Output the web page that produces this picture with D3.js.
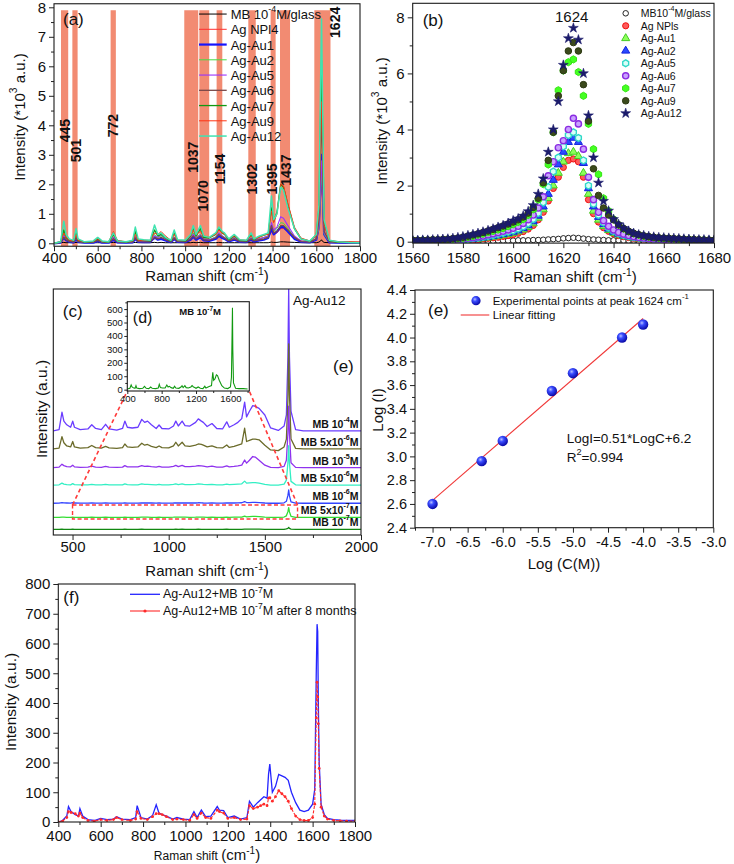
<!DOCTYPE html>
<html><head><meta charset="utf-8">
<script src="https://cdn.jsdelivr.net/npm/d3@7/dist/d3.min.js"></script>
<style>html,body{margin:0;padding:0;background:#fff;}svg{display:block;}</style>
</head><body>
<svg id="fig" width="734" height="864"></svg>
<script>
// ================= DATA =================
// ---- Panel (a): Raman spectra (intensity, 10^3 a.u.) ----
const gridA = [400,430,445,455,470,490,501,510,540,580,
  600,620,650,672,690,730,760,772,785,810,
  840,860,875,890,910,935,950,965,1000,1025,
  1037,1050,1070,1085,1110,1140,1154,1170,1180,1200,
  1225,1250,1280,1302,1315,1340,1360,1380,1395,1405,
  1420,1437,1450,1470,1500,1530,1570,1600,1612,1620,
  1624,1628,1636,1660,1700,1750,1800];
const aNames = ["MB 10^{-4}M/glass","Ag NPl4","Ag-Au1","Ag-Au2","Ag-Au5","Ag-Au6","Ag-Au7","Ag-Au9","Ag-Au12"];
const aMB = [0.02,0.02,0.03,0.02,0.02,0.02,0.03,0.02,0.02,0.02,
  0.02,0.02,0.02,0.03,0.02,0.02,0.02,0.03,0.02,0.02,
  0.02,0.03,0.02,0.03,0.02,0.02,0.02,0.02,0.02,0.02,
  0.03,0.02,0.03,0.02,0.02,0.02,0.03,0.02,0.02,0.02,
  0.02,0.02,0.02,0.02,0.02,0.02,0.02,0.02,0.04,0.03,
  0.03,0.05,0.05,0.04,0.03,0.02,0.02,0.02,0.04,0.08,
  0.12,0.07,0.03,0.02,0.02,0.02,0.02];
const aNPl4 = [0.02,0.04,0.15,0.1,0.06,0.05,0.12,0.06,0.04,0.05,
  0.1,0.05,0.04,0.3,0.07,0.04,0.06,0.15,0.06,0.06,
  0.06,0.15,0.2,0.35,0.2,0.06,0.12,0.06,0.06,0.12,
  0.2,0.12,0.18,0.12,0.1,0.15,0.25,0.2,0.18,0.12,
  0.2,0.1,0.08,0.15,0.1,0.15,0.2,0.2,0.4,0.3,
  0.35,0.5,0.5,0.4,0.18,0.08,0.06,0.12,0.45,1.65,
  2.2,1.5,0.3,0.08,0.06,0.05,0.05];
const aAu1 = [0.0,0.02,0.2,0.1,0.05,0.03,0.15,0.05,0.02,0.02,
  0.08,0.02,0.02,0.12,0.03,0.02,0.03,0.15,0.05,0.04,
  0.04,0.2,0.12,0.15,0.1,0.04,0.15,0.05,0.04,0.12,
  0.22,0.12,0.2,0.1,0.08,0.15,0.25,0.18,0.15,0.06,
  0.12,0.05,0.04,0.12,0.06,0.1,0.12,0.18,0.5,0.3,
  0.4,0.55,0.55,0.4,0.15,0.05,0.03,0.12,0.6,2.25,
  3.0,2.1,0.3,0.03,0.02,0.01,0.01];
const aAu2 = [0.0,0.03,0.3,0.15,0.08,0.05,0.22,0.07,0.03,0.04,
  0.12,0.04,0.03,0.2,0.05,0.03,0.05,0.25,0.07,0.06,
  0.06,0.3,0.2,0.25,0.15,0.06,0.22,0.07,0.06,0.2,
  0.35,0.2,0.3,0.15,0.12,0.22,0.35,0.25,0.2,0.1,
  0.18,0.08,0.06,0.2,0.1,0.15,0.2,0.25,0.65,0.4,
  0.5,0.7,0.68,0.5,0.22,0.07,0.05,0.15,0.5,1.8,
  2.4,1.7,0.3,0.05,0.03,0.02,0.02];
const aAu5 = [0.0,0.03,0.25,0.15,0.07,0.05,0.2,0.07,0.03,0.04,
  0.12,0.04,0.03,0.2,0.05,0.03,0.05,0.22,0.07,0.06,
  0.06,0.25,0.2,0.3,0.15,0.06,0.2,0.07,0.06,0.18,
  0.3,0.18,0.28,0.15,0.12,0.2,0.35,0.25,0.2,0.1,
  0.18,0.08,0.06,0.18,0.1,0.15,0.2,0.25,0.7,0.45,
  0.55,0.9,0.85,0.6,0.25,0.08,0.05,0.15,0.6,2.1,
  2.8,1.95,0.35,0.05,0.03,0.02,0.02];
const aAu6 = [0.0,0.03,0.2,0.12,0.06,0.05,0.18,0.06,0.03,0.04,
  0.1,0.04,0.03,0.15,0.05,0.03,0.05,0.18,0.06,0.05,
  0.05,0.2,0.15,0.2,0.12,0.05,0.18,0.06,0.05,0.15,
  0.25,0.15,0.25,0.12,0.1,0.18,0.3,0.22,0.18,0.08,
  0.15,0.06,0.05,0.15,0.08,0.12,0.15,0.2,0.6,0.35,
  0.4,0.6,0.6,0.45,0.2,0.06,0.04,0.15,0.8,3.3,
  4.4,3.0,0.4,0.05,0.03,0.02,0.02];
const aAu7 = [0.0,0.05,0.45,0.2,0.1,0.08,0.35,0.1,0.04,0.06,
  0.15,0.06,0.04,0.3,0.08,0.04,0.08,0.4,0.1,0.1,
  0.08,0.45,0.25,0.3,0.18,0.08,0.35,0.1,0.08,0.25,
  0.5,0.25,0.5,0.2,0.18,0.3,0.5,0.35,0.3,0.12,
  0.25,0.1,0.08,0.3,0.12,0.22,0.28,0.32,1.2,0.75,
  1.05,2.0,1.9,1.3,0.5,0.15,0.07,0.28,1.2,4.6,
  6.2,4.3,0.7,0.08,0.04,0.03,0.02];
const aAu9 = [0.0,0.05,0.35,0.2,0.1,0.08,0.3,0.1,0.05,0.06,
  0.15,0.06,0.05,0.4,0.1,0.05,0.08,0.3,0.1,0.1,
  0.1,0.35,0.3,0.4,0.25,0.1,0.3,0.1,0.1,0.25,
  0.45,0.3,0.4,0.25,0.2,0.3,0.45,0.35,0.3,0.15,
  0.25,0.12,0.1,0.25,0.15,0.2,0.28,0.3,1.1,0.7,
  1.0,2.0,1.95,1.35,0.55,0.18,0.08,0.25,1.0,3.6,
  4.8,3.4,0.6,0.1,0.05,0.04,0.03];
const aAu12 = [0.0,0.05,0.75,0.3,0.15,0.1,0.5,0.15,0.05,0.08,
  0.2,0.08,0.05,0.35,0.08,0.05,0.1,0.55,0.15,0.12,
  0.1,0.62,0.3,0.35,0.2,0.1,0.45,0.12,0.1,0.3,
  0.6,0.3,0.6,0.25,0.2,0.35,0.55,0.4,0.35,0.15,
  0.3,0.12,0.1,0.35,0.15,0.25,0.3,0.35,1.6,0.8,
  1.0,1.9,1.8,1.2,0.5,0.15,0.08,0.3,1.3,5.6,
  7.6,5.2,0.8,0.1,0.05,0.03,0.02];
const aBands = [[432,465],[484,508],[659,683],[996,1060],[1065,1110],[1144,1170],[1289,1323],[1391,1414],[1434,1480],[1591,1665]];
const aBandTop = 7.9;
const aPeakText = ["445","501","772","1037","1070","1154","1302","1395","1437","1624"];
const aPeakX = [450,501,671,1034,1083,1159,1307,1396,1460,1685];
const aPeakY = [3.82,3.14,3.99,2.92,1.61,2.52,2.18,2.18,2.48,7.49];
const aXTicks = [400,600,800,1000,1200,1400,1600,1800];
const aYTicks = [0,1,2,3,4,5,6,7,8];

// ---- Panel (b): zoom on 1624 band (10^3 a.u.), sampled every 2 cm-1 from 1560 to 1680 ----
const gridB = d3.range(1560, 1681, 2);
const bNames = ["MB10^{-4}M/glass","Ag NPls","Ag-Au1","Ag-Au2","Ag-Au5","Ag-Au6","Ag-Au7","Ag-Au9","Ag-Au12"];
const bMB = [0.01,0.01,0.01,0.01,0.01,0.01,0.01,0.01,0.02,0.02,
  0.02,0.02,0.02,0.03,0.03,0.03,0.03,0.04,0.04,0.04,
  0.04,0.05,0.05,0.05,0.06,0.06,0.07,0.08,0.09,0.1,
  0.12,0.13,0.14,0.13,0.11,0.09,0.08,0.07,0.06,0.05,
  0.05,0.05,0.04,0.04,0.04,0.03,0.03,0.03,0.03,0.02,
  0.02,0.02,0.02,0.02,0.02,0.02,0.01,0.01,0.01,0.01,0.01];
const bNPls = [0.02,0.02,0.02,0.02,0.02,0.03,0.03,0.03,0.04,0.04,
  0.05,0.06,0.07,0.08,0.1,0.12,0.14,0.16,0.19,0.22,
  0.25,0.3,0.36,0.45,0.58,0.78,1.05,1.45,1.9,2.3,
  2.65,2.9,2.95,2.85,2.3,1.5,1.0,0.7,0.5,0.37,
  0.28,0.22,0.18,0.15,0.12,0.1,0.09,0.08,0.07,0.06,
  0.06,0.05,0.05,0.05,0.04,0.04,0.04,0.03,0.03,0.03,0.03];
const bAu1 = [0.02,0.02,0.03,0.03,0.03,0.03,0.04,0.04,0.05,0.05,
  0.06,0.07,0.09,0.1,0.12,0.14,0.17,0.2,0.23,0.27,
  0.31,0.36,0.43,0.52,0.65,0.85,1.15,1.55,2.0,2.45,
  2.85,3.15,3.2,3.05,2.45,1.7,1.1,0.78,0.55,0.41,
  0.31,0.25,0.2,0.16,0.13,0.11,0.1,0.09,0.08,0.07,
  0.06,0.06,0.05,0.05,0.05,0.04,0.04,0.04,0.03,0.03,0.03];
const bAu2 = [0.03,0.03,0.03,0.03,0.03,0.04,0.04,0.05,0.05,0.06,
  0.07,0.08,0.1,0.12,0.14,0.17,0.2,0.23,0.27,0.31,
  0.35,0.4,0.48,0.58,0.72,0.92,1.25,1.7,2.2,2.75,
  3.2,3.55,3.7,3.55,2.8,1.9,1.25,0.88,0.62,0.46,
  0.35,0.28,0.22,0.18,0.15,0.13,0.11,0.1,0.09,0.08,
  0.07,0.06,0.06,0.05,0.05,0.05,0.04,0.04,0.04,0.04,0.03];
const bAu5 = [0.03,0.03,0.03,0.03,0.04,0.04,0.05,0.05,0.06,0.07,
  0.08,0.1,0.12,0.14,0.17,0.2,0.23,0.27,0.31,0.35,
  0.4,0.46,0.54,0.65,0.8,1.02,1.4,1.95,2.5,3.0,
  3.4,3.8,3.9,3.7,2.9,2.0,1.35,0.95,0.68,0.5,
  0.38,0.3,0.24,0.2,0.16,0.14,0.12,0.1,0.09,0.08,
  0.07,0.07,0.06,0.06,0.05,0.05,0.05,0.04,0.04,0.04,0.04];
const bAu6 = [0.03,0.03,0.03,0.04,0.04,0.05,0.05,0.06,0.07,0.08,
  0.1,0.12,0.14,0.17,0.2,0.24,0.28,0.32,0.37,0.42,
  0.48,0.55,0.65,0.78,0.95,1.2,1.6,2.35,2.85,3.35,
  3.6,4.0,4.4,4.2,3.3,2.3,1.5,1.05,0.75,0.55,
  0.42,0.33,0.27,0.22,0.18,0.15,0.13,0.11,0.1,0.09,
  0.08,0.07,0.07,0.06,0.06,0.05,0.05,0.05,0.04,0.04,0.04];
const bAu7 = [0.04,0.04,0.05,0.05,0.06,0.06,0.07,0.08,0.09,0.11,
  0.13,0.16,0.2,0.24,0.28,0.33,0.38,0.43,0.48,0.55,
  0.62,0.7,0.8,0.95,1.15,1.5,2.05,2.75,3.9,5.4,
  6.1,6.4,6.5,6.05,5.2,4.2,3.3,2.4,1.55,1.1,
  0.8,0.6,0.46,0.36,0.29,0.24,0.2,0.17,0.15,0.13,
  0.12,0.11,0.1,0.09,0.08,0.08,0.07,0.06,0.06,0.05,0.05];
const bAu9 = [0.05,0.05,0.05,0.06,0.07,0.07,0.08,0.09,0.11,0.13,
  0.16,0.2,0.24,0.28,0.33,0.38,0.44,0.5,0.56,0.63,
  0.7,0.78,0.88,1.02,1.22,1.55,2.1,2.9,3.9,5.2,
  6.1,6.8,7.1,6.8,5.6,4.3,2.6,1.65,1.2,0.95,
  0.78,0.6,0.47,0.37,0.3,0.25,0.21,0.18,0.16,0.14,
  0.13,0.12,0.11,0.1,0.09,0.08,0.08,0.07,0.06,0.06,0.05];
const bAu12 = [0.05,0.05,0.06,0.06,0.07,0.08,0.09,0.1,0.12,0.15,
  0.18,0.22,0.26,0.3,0.35,0.4,0.46,0.52,0.58,0.66,
  0.75,0.82,0.92,1.08,1.3,1.7,2.25,3.2,4.0,5.0,
  6.3,7.25,7.62,7.2,6.0,4.5,3.0,2.1,1.45,1.1,
  0.8,0.62,0.48,0.38,0.3,0.25,0.22,0.19,0.17,0.15,
  0.14,0.13,0.12,0.11,0.1,0.09,0.08,0.07,0.07,0.06,0.06];
const bXTicks = [1560,1580,1600,1620,1640,1660,1680];
const bYTicks = [0,2,4,6,8];

// ---- Panel (c): stacked spectra of Ag-Au12 with MB (a.u.) ----
const gridC = [...gridA, 1900, 2000];
const cNames = ["MB 10^{-4}M","MB 5x10^{-6}M","MB 10^{-5}M","MB 5x10^{-6}M","MB 10^{-6}M","MB 5x10^{-7}M","MB 10^{-7}M"];
const cOffsets = [42.3, 35, 27.4, 20.3, 12.9, 7.2, 2.3];
const c1 = [0,0.5,7.6,4,2.5,1.5,4,1.5,0.5,0.8,
  2.5,1,0.5,2.7,0.8,0.3,1,4,1.5,1.2,
  1.5,4.7,3.5,4,2.5,1,2.4,1,0.8,2,
  4,2,4,2.2,2,3.5,4.9,4,3.5,1.8,
  3,1,0.8,3.7,1.5,2.5,3.5,5,11.7,5.7,
  8,10.3,10,9.2,6.5,1.2,0.2,2,6.5,30,
  58,30,8,0.5,0,0,0,0,0];
const c2 = [0,0.3,5,2.5,1.2,0.8,3,0.8,0.3,0.5,
  1.4,0.5,0.3,1,0.4,0.2,0.5,2,0.8,0.6,
  0.8,2.3,1.5,1.8,1,0.5,1.2,0.5,0.4,1.2,
  2.7,1.2,2.7,1.2,1,1.5,2,1.8,1.5,0.8,
  1.2,0.5,0.4,1.6,0.6,1,1.5,2,8.4,3,
  3.5,4,4,3.7,1.5,-0.4,-0.7,0.8,4,20,
  42.7,22,4,0.2,0,0,0,0,0];
const c3 = [0,0.2,1.4,0.8,0.4,0.3,1,0.3,0.1,0.2,
  0.6,0.2,0.1,0.5,0.2,0.1,0.2,0.8,0.3,0.3,
  0.3,0.8,0.5,0.6,0.4,0.2,0.5,0.2,0.2,0.5,
  0.9,0.4,0.9,0.4,0.4,0.6,0.8,0.7,0.6,0.3,
  0.6,0.2,0.2,0.7,0.3,0.5,0.7,1,3.1,1.8,
  3,4.5,4.3,3,1,0.1,0,0.5,3,14,
  25,14,2,0.1,0,0,0,0,0];
const c4 = [0,0.1,0.8,0.4,0.2,0.1,0.6,0.2,0.1,0.1,
  0.3,0.1,0.1,0.3,0.1,0.1,0.1,0.5,0.2,0.1,
  0.1,0.5,0.3,0.3,0.2,0.1,0.3,0.1,0.1,0.3,
  0.5,0.2,0.5,0.2,0.2,0.3,0.5,0.4,0.3,0.2,
  0.3,0.1,0.1,0.4,0.2,0.3,0.4,0.5,1.6,0.8,
  0.9,1.0,1.0,0.8,0.3,0,0,0.4,2,9,
  16,9,1.5,0.1,0,0,0,0,0];
const c5 = [0,0.05,0.3,0.15,0.1,0.05,0.25,0.1,0.05,0.05,
  0.1,0.05,0.05,0.1,0.05,0.05,0.05,0.2,0.05,0.05,
  0.05,0.2,0.1,0.1,0.1,0.05,0.1,0.05,0.05,0.1,
  0.2,0.1,0.2,0.1,0.1,0.1,0.2,0.15,0.1,0.05,
  0.1,0.05,0.05,0.15,0.1,0.1,0.15,0.2,0.7,0.3,
  0.3,0.4,0.4,0.3,0.1,0,0,0.2,0.8,3.2,
  5.4,3.0,0.6,0.05,0,0,0,0,0];
const c6 = [0,0,0.1,0.05,0,0,0.1,0,0,0,
  0.05,0,0,0.05,0,0,0,0.1,0,0,
  0,0.1,0.05,0.05,0,0,0.05,0,0,0.05,
  0.1,0.05,0.1,0.05,0,0.05,0.1,0.05,0.05,0,
  0.05,0,0,0.1,0,0.05,0.1,0.1,0.5,0.2,
  0.3,0.4,0.4,0.3,0.1,0,0,0.1,0.6,2.3,
  3.9,2.2,0.4,0,0,0,0,0,0];
const c7 = [0,0,0.05,0,0,0,0.05,0,0,0,
  0,0,0,0,0,0,0,0.05,0,0,
  0,0.05,0,0,0,0,0,0,0,0,
  0.05,0,0.05,0,0,0,0.05,0,0,0,
  0,0,0,0.05,0,0,0,0,0.1,0.05,
  0.05,0.1,0.1,0.05,0,0,0,0,0.15,0.4,
  0.8,0.4,0.1,0,0,0,0,0,0];
const cZoomBox = [500, 1670, 6.5, 12.2];
const cXTicks = [500,1000,1500,2000];
const cXMinor = [750,1250,1750];

// ---- Panel (d): inset, MB 10^-7 M (counts) ----
const dVals = [5,10,35,20,15,10,30,12,8,10,
  25,10,8,20,10,8,12,40,15,12,
  12,35,20,25,15,10,25,12,10,20,
  30,15,30,15,12,20,30,20,18,10,
  20,10,8,25,12,20,25,30,130,70,
  80,110,105,70,30,12,8,20,90,430,
  610,300,50,10,8,8,5];
const dXTicks = [400,800,1200,1600];
const dYTicks = [0,100,200,300,400,500,600];

// ---- Panel (e): log-log calibration ----
const eLogC = [-7.0,-6.3,-6.0,-5.3,-5.0,-4.3,-4.0];
const eLogI = [2.6,2.96,3.13,3.55,3.70,4.0,4.11];
const eFit = {slope:0.51, intercept:6.2, from:-7.0, to:-4.0};
const eXTicks = [-7,-6.5,-6,-5.5,-5,-4.5,-4,-3.5,-3];
const eYTicks = [2.4,2.6,2.8,3.0,3.2,3.4,3.6,3.8,4.0,4.2,4.4];

// ---- Panel (f): stability ----
const gridF = [400,420,440,448,460,480,495,502,515,540,
  570,600,630,660,675,700,740,765,772,790,
  820,845,862,875,890,910,940,960,990,1020,
  1040,1055,1075,1095,1120,1150,1160,1180,1200,1230,
  1260,1290,1302,1320,1340,1355,1370,1385,1392,1398,
  1410,1425,1440,1455,1470,1485,1500,1520,1540,1560,
  1580,1600,1610,1617,1621,1624,1627,1631,1640,1655,
  1670,1700,1730,1760,1800];
const fFresh = [0,5,20,52,35,25,20,45,20,8,
  5,12,8,10,18,10,8,15,55,15,
  10,22,58,30,25,20,10,15,10,8,
  35,15,40,18,20,52,40,38,15,20,
  10,15,70,50,65,75,85,80,160,195,
  100,120,160,155,150,140,100,65,40,35,
  40,60,110,490,665,640,400,200,60,25,
  12,8,6,5,5];
const fAged = [0,3,15,35,32,28,20,30,15,5,
  3,8,5,8,15,8,5,10,35,12,
  8,18,28,28,25,18,8,10,8,5,
  25,12,30,15,12,40,35,30,12,15,
  8,10,55,45,50,55,60,55,80,82,
  70,85,105,95,85,70,45,20,8,5,
  5,15,60,350,470,420,330,180,50,20,
  10,5,4,3,3];
const fNames = ["Ag-Au12+MB 10^{-7}M","Ag-Au12+MB 10^{-7}M after 8 months"];
const fXTicks = [400,600,800,1000,1200,1400,1600,1800];
const fYTicks = [0,100,200,300,400,500,600,700,800];

// ================= DRAWING =================
const FONT = '"Liberation Sans", Arial, Helvetica, sans-serif';
const svg = d3.select("#fig");
const defs = svg.append("defs");
const zip = (xs, ys) => xs.slice(0, Math.min(xs.length, ys.length)).map((x,i)=>[x, ys[i]]);
const stepRange = (a,b,s) => d3.range(a, b + s/2, s);

function rich(t, str, fs){
  const parts = str.split(/(\^\{[^}]*\})/).filter(p=>p.length);
  let shift = 0;
  parts.forEach(p=>{
    if (p.startsWith("^{")) {
      t.append("tspan").attr("dy", (-0.38*fs)+"px").attr("font-size", (0.68*fs)+"px").text(p.slice(2,-1));
      shift = 0.38*fs;
    } else {
      const s = t.append("tspan").text(p);
      if (shift) { s.attr("dy", shift+"px"); shift = 0; }
    }
  });
  return t;
}
function label(g, str, x, y, o={}){
  const fs = o.fs || 15;
  const t = g.append("text").attr("x", x).attr("y", y)
    .attr("font-family", FONT).attr("font-size", fs+"px")
    .attr("fill", o.fill || "#111").attr("text-anchor", o.anchor || "start");
  if (o.weight) t.attr("font-weight", o.weight);
  if (o.rotate) t.attr("transform", `rotate(${o.rotate},${x},${y})`);
  if (o.baseline) t.attr("dominant-baseline", o.baseline);
  return rich(t, str, fs);
}
function frameAxes(g, x, y, o){
  const [x0,x1] = x.range(), [y0,y1] = y.range();
  const fs = o.fs || 15, tl = o.tl || 5, tm = o.tm || 3;
  const style = s => { s.select(".domain").remove(); s.attr("font-family", FONT).attr("font-size", fs); s.selectAll("text").attr("fill","#111"); s.selectAll("line").attr("stroke","#222"); };
  if (o.xTicks) {
    if (o.xMinor) g.append("g").attr("transform",`translate(0,${y0})`).call(d3.axisBottom(x).tickValues(o.xMinor).tickSize(tm).tickFormat("")).call(style);
    g.append("g").attr("transform",`translate(0,${y0})`).call(d3.axisBottom(x).tickValues(o.xTicks).tickSize(tl).tickPadding(o.xPad ?? 1.5).tickFormat(o.xFmt || (d=>d))).call(style);
  }
  if (o.yTicks) {
    if (o.yMinor) g.append("g").attr("transform",`translate(${x0},0)`).call(d3.axisLeft(y).tickValues(o.yMinor).tickSize(tm).tickFormat("")).call(style);
    g.append("g").attr("transform",`translate(${x0},0)`).call(d3.axisLeft(y).tickValues(o.yTicks).tickSize(tl).tickPadding(o.yPad ?? 3).tickFormat(o.yFmt || (d=>d))).call(style);
  }
  g.append("rect").attr("x", x0).attr("y", y1).attr("width", x1-x0).attr("height", y0-y1)
    .attr("fill","none").attr("stroke","#1a1a1a").attr("stroke-width",1.1);
}
function clipFor(id, x, y){
  const [x0,x1] = x.range(), [y0,y1] = y.range();
  defs.append("clipPath").attr("id", id).append("rect").attr("x", x0).attr("y", y1).attr("width", x1-x0).attr("height", y0-y1);
  return `url(#${id})`;
}

// ---------- Panel (a) ----------
(function(){
  const g = svg.append("g");
  const x = d3.scaleLinear().domain([400,1800]).range([54,360]);
  const y = d3.scaleLinear().domain([-0.1,8.12]).range([246.25,3.76]);
  const clip = clipFor("clipA", x, y);
  g.append("g").selectAll("rect").data(aBands).join("rect")
    .attr("x", d=>x(d[0])).attr("width", d=>x(d[1])-x(d[0]))
    .attr("y", y(aBandTop)).attr("height", y(y.domain()[0]) - y(aBandTop))
    .attr("fill","#f28b72");
  const series = [aMB,aNPl4,aAu1,aAu2,aAu5,aAu6,aAu7,aAu9,aAu12];
  const colors = ["#000000","#ff3030","#1414ff","#44dd44","#9933ff","#7a4848","#119911","#ff3311","#3fe3b0"];
  const widths = [1,1,2.2,1,1.1,1.3,1.3,1,1.5];
  const line = d3.line().x(d=>x(d[0])).y(d=>y(d[1]));
  const sg = g.append("g").attr("clip-path", clip);
  series.forEach((s,i)=>{
    sg.append("path").attr("d", line(zip(gridA, s))).attr("fill","none")
      .attr("stroke", colors[i]).attr("stroke-width", widths[i]).attr("stroke-linejoin","round");
  });
  aPeakText.forEach((t,i)=>{
    label(g, t, x(aPeakX[i]), y(aPeakY[i]), {fs:14, weight:"bold", anchor:"middle", baseline:"central", rotate:-90});
  });
  const lx = x.range()[0], ty = y.range()[1];
  aNames.forEach((n,i)=>{
    const yy = ty + 10.3 + i*15.25;
    g.append("line").attr("x1", lx+145).attr("x2", lx+172.7).attr("y1", yy).attr("y2", yy)
      .attr("stroke", colors[i]).attr("stroke-width", widths[i]);
    label(g, n, lx+176.7, yy, {fs:13, baseline:"central"});
  });
  label(g, "(a)", lx+9, ty+15, {fs:17, baseline:"central"});
  frameAxes(g, x, y, {xTicks:aXTicks, xMinor:stepRange(500,1700,200), yTicks:aYTicks, yMinor:stepRange(0.5,7.5,1), fs:15});
  label(g, "Intensity (*10^{3} a.u.)", 19, 117, {fs:15, anchor:"middle", baseline:"central", rotate:-90});
  label(g, "Raman shift (cm^{-1})", 207, 281, {fs:15, anchor:"middle"});
})();

// ---------- Panel (b) ----------
(function(){
  const g = svg.append("g");
  const x = d3.scaleLinear().domain([1560,1680]).range([412.7,714]);
  const y = d3.scaleLinear().domain([-0.05,8.5]).range([243.1,3.3]);
  const clip = clipFor("clipB", x, y);
  const hex = {draw(ctx,size){ const r = Math.sqrt(size/2.598); for(let k=0;k<6;k++){ const a = Math.PI/3*k + Math.PI/6; const px = r*Math.cos(a), py = r*Math.sin(a); if(k) ctx.lineTo(px,py); else ctx.moveTo(px,py);} ctx.closePath(); }};
  const styles = [
    {t:d3.symbolCircle, s:24, f:"#ffffff", k:"#222222", w:1},
    {t:d3.symbolCircle, s:30, f:"#ff5a5a", k:"#ee1111", w:1},
    {t:d3.symbolTriangle, s:28, f:"#8cff5a", k:"#44cc22", w:1},
    {t:d3.symbolTriangle, s:28, f:"#2a4aff", k:"#1122dd", w:1},
    {t:hex, s:30, f:"#d8fff8", k:"#30d8c8", w:1.4},
    {t:d3.symbolCircle, s:30, f:"#c9a0ff", k:"#8a2be2", w:1.4},
    {t:hex, s:34, f:"#44ff22", k:"#33e611", w:1},
    {t:d3.symbolCircle, s:34, f:"#3b4a1c", k:"#2e3a14", w:1},
    {t:d3.symbolStar, s:30, f:"#1b1b6b", k:"#1b1b6b", w:0.6}
  ];
  const series = [bMB,bNPls,bAu1,bAu2,bAu5,bAu6,bAu7,bAu9,bAu12];
  const pg = g.append("g").attr("clip-path", clip);
  series.forEach((s,i)=>{
    const st = styles[i];
    const sym = d3.symbol().type(st.t).size(st.s)();
    pg.append("g").selectAll("path").data(zip(gridB, s)).join("path")
      .attr("d", sym).attr("transform", d=>`translate(${x(d[0])},${y(d[1])})`)
      .attr("fill", st.f).attr("stroke", st.k).attr("stroke-width", st.w);
  });
  const lx = x.range()[0], ty = y.range()[1];
  bNames.forEach((n,i)=>{
    const st = styles[i];
    const yy = ty + 10 + i*12.5;
    g.append("path").attr("d", d3.symbol().type(st.t).size(st.s)()).attr("transform", `translate(${lx+213},${yy})`)
      .attr("fill", st.f).attr("stroke", st.k).attr("stroke-width", st.w);
    label(g, n, lx+228, yy, {fs:10.5, baseline:"central"});
  });
  label(g, "1624", 571.7, ty+13, {fs:15, anchor:"middle", baseline:"central"});
  label(g, "(b)", lx+10, ty+17, {fs:17, baseline:"central"});
  frameAxes(g, x, y, {xTicks:bXTicks, xMinor:stepRange(1570,1670,20), yTicks:bYTicks, yMinor:[1,3,5,7], fs:15, xPad:4.5});
  label(g, "Intensity (*10^{3} a.u.)", 381, 121, {fs:15, anchor:"middle", baseline:"central", rotate:-90});
  label(g, "Raman shift (cm^{-1})", 575, 282, {fs:15, anchor:"middle"});
})();

// ---------- Panels (c) & (d) ----------
(function(){
  const g = svg.append("g");
  const x = d3.scaleLinear().domain([400,2000]).range([53.3,361]);
  const y = d3.scaleLinear().domain([0,100]).range([535,289]);
  const clip = clipFor("clipC", x, y);
  const series = [c1,c2,c3,c4,c5,c6,c7];
  const colors = ["#6a3cff","#6b6b2a","#8f33ee","#33efc4","#3344ff","#33dd33","#118811"];
  const sg = g.append("g").attr("clip-path", clip);
  series.forEach((s,i)=>{
    const line = d3.line().x(d=>x(d[0])).y(d=>y(d[1] + cOffsets[i]));
    sg.append("path").attr("d", line(zip(gridC, s))).attr("fill","none")
      .attr("stroke", colors[i]).attr("stroke-width", 1.3).attr("stroke-linejoin","round");
  });
  const xr = x.range()[1];
  cNames.forEach((n,i)=>{
    label(g, n, xr - 2.5, y(cOffsets[i]) - 7, {fs:10.5, weight:"bold", anchor:"end", baseline:"central"});
  });
  label(g, "Ag-Au12", x(1646), y(95.5), {fs:13.5, baseline:"central"});
  label(g, "(c)", x.range()[0]+9.5, y.range()[1]+22, {fs:17, baseline:"central"});
  label(g, "(e)", 333, 366, {fs:17, baseline:"central"});
  frameAxes(g, x, y, {xTicks:cXTicks, xMinor:cXMinor, fs:15});
  label(g, "Intensity (a.u.)", 41, 409, {fs:15.5, anchor:"middle", baseline:"central", rotate:-90});
  label(g, "Raman shift (cm^{-1})", 207, 576, {fs:15, anchor:"middle"});

  // inset (d)
  const xd = d3.scaleLinear().domain([400,1820]).range([127.3,249.3]);
  const yd = d3.scaleLinear().domain([-10,655]).range([391,301.7]);
  const [bx0,bx1,by0,by1] = cZoomBox;
  const red = "#ff3a3a";
  g.append("rect").attr("x", x(bx0)).attr("y", y(by1)).attr("width", x(bx1)-x(bx0)).attr("height", y(by0)-y(by1))
    .attr("fill","none").attr("stroke", red).attr("stroke-width",1.4).attr("stroke-dasharray","4,2.5");
  g.append("line").attr("x1", x(bx0)).attr("y1", y(by1)).attr("x2", xd.range()[0]).attr("y2", yd.range()[0])
    .attr("stroke", red).attr("stroke-width",1.6).attr("stroke-dasharray","4,3");
  g.append("line").attr("x1", x(bx1)).attr("y1", y(by1)).attr("x2", xd.range()[1]).attr("y2", yd.range()[0])
    .attr("stroke", red).attr("stroke-width",1.6).attr("stroke-dasharray","4,3");
  const gd = svg.append("g");
  gd.append("rect").attr("x", xd.range()[0]).attr("y", yd.range()[1]).attr("width", xd.range()[1]-xd.range()[0]).attr("height", yd.range()[0]-yd.range()[1]).attr("fill","#fff");
  const clipD = clipFor("clipD", xd, yd);
  gd.append("path").attr("clip-path", clipD)
    .attr("d", d3.line().x(d=>xd(d[0])).y(d=>yd(d[1]))(zip(gridA, dVals)))
    .attr("fill","none").attr("stroke","#119911").attr("stroke-width",1.1);
  frameAxes(gd, xd, yd, {xTicks:dXTicks, xMinor:[600,1000,1400,1800], yTicks:dYTicks, yMinor:stepRange(50,650,100), fs:9.5, tl:3, tm:2, xPad:1.5, yPad:1.5});
  label(gd, "(d)", xd.range()[0]+5.5, yd.range()[1]+15, {fs:16, baseline:"central"});
  label(gd, "MB 10^{-7}M", xd.range()[0]+52, yd.range()[1]+9.5, {fs:9.5, weight:"bold", baseline:"central"});
})();

// ---------- Panel (e) ----------
(function(){
  const g = svg.append("g");
  const x = d3.scaleLinear().domain([-7.25,-3]).range([415,713.3]);
  const y = d3.scaleLinear().domain([2.4,4.4]).range([527.7,290]);
  const grad = defs.append("radialGradient").attr("id","ball").attr("cx","38%").attr("cy","35%").attr("r","65%");
  grad.append("stop").attr("offset","0%").attr("stop-color","#b8c0ff");
  grad.append("stop").attr("offset","35%").attr("stop-color","#3a4cff");
  grad.append("stop").attr("offset","100%").attr("stop-color","#0a0aa8");
  g.append("line").attr("x1", x(eFit.from)).attr("y1", y(eFit.slope*eFit.from + eFit.intercept))
    .attr("x2", x(eFit.to)).attr("y2", y(eFit.slope*eFit.to + eFit.intercept))
    .attr("stroke","#f03838").attr("stroke-width",1.1);
  g.append("g").selectAll("circle").data(zip(eLogC, eLogI)).join("circle")
    .attr("cx", d=>x(d[0])).attr("cy", d=>y(d[1])).attr("r", 5.2).attr("fill","url(#ball)");
  const lx = x.range()[0], ty = y.range()[1];
  g.append("circle").attr("cx", lx+61).attr("cy", ty+10.7).attr("r", 4.6).attr("fill","url(#ball)");
  label(g, "Experimental points at peak 1624 cm^{-1}", lx+77.7, ty+10.7, {fs:11.5, baseline:"central"});
  g.append("line").attr("x1", lx+45.7).attr("x2", lx+74.3).attr("y1", ty+25).attr("y2", ty+25).attr("stroke","#f03838").attr("stroke-width",1.1);
  label(g, "Linear fitting", lx+77.7, ty+25, {fs:11.5, baseline:"central"});
  label(g, "(e)", lx+13, ty+20, {fs:17, baseline:"central"});
  label(g, "LogI=0.51*LogC+6.2", lx+151.7, ty+148.3, {fs:13.5, baseline:"central"});
  label(g, "R^{2}=0.994", lx+151.7, ty+166.7, {fs:13.5, baseline:"central"});
  frameAxes(g, x, y, {xTicks:eXTicks, xMinor:stepRange(-7.25,-3.25,0.5), yTicks:eYTicks, yMinor:stepRange(2.5,4.3,0.2), fs:14.5, xPad:4,
    xFmt:d=>d.toFixed(1), yFmt:d=>d.toFixed(1)});
  label(g, "Log (I)", 377, 410, {fs:15, anchor:"middle", baseline:"central", rotate:-90});
  label(g, "Log (C(M))", 564, 569, {fs:15, anchor:"middle"});
})();

// ---------- Panel (f) ----------
(function(){
  const g = svg.append("g");
  const x = d3.scaleLinear().domain([400,1800]).range([58.3,355]);
  const y = d3.scaleLinear().domain([0,800]).range([822,584]);
  const clip = clipFor("clipF", x, y);
  const line = d3.line().x(d=>x(d[0])).y(d=>y(d[1]));
  const sg = g.append("g").attr("clip-path", clip);
  sg.append("path").attr("d", line(zip(gridF, fFresh))).attr("fill","none").attr("stroke","#2424ff").attr("stroke-width",1.3);
  sg.append("path").attr("d", line(zip(gridF, fAged))).attr("fill","none").attr("stroke","#ff2a2a").attr("stroke-width",1.1).attr("stroke-dasharray","3,1.5");
  sg.append("g").selectAll("circle").data(zip(gridF, fAged)).join("circle")
    .attr("cx", d=>x(d[0])).attr("cy", d=>y(d[1])).attr("r", 1.4).attr("fill","#ff2a2a");
  const lx = x.range()[0], ty = y.range()[1];
  g.append("line").attr("x1", lx+71.7).attr("x2", lx+101.7).attr("y1", ty+10.3).attr("y2", ty+10.3).attr("stroke","#2424ff").attr("stroke-width",1.3);
  label(g, fNames[0], lx+104.7, ty+10.3, {fs:12.5, baseline:"central"});
  g.append("line").attr("x1", lx+71.7).attr("x2", lx+101.7).attr("y1", ty+27).attr("y2", ty+27).attr("stroke","#ff2a2a").attr("stroke-width",1.1);
  g.append("circle").attr("cx", lx+86.7).attr("cy", ty+27).attr("r", 1.6).attr("fill","#ff2a2a");
  label(g, fNames[1], lx+104.7, ty+27, {fs:12.5, baseline:"central"});
  label(g, "(f)", lx+5, ty+13, {fs:17, baseline:"central"});
  frameAxes(g, x, y, {xTicks:fXTicks, xMinor:stepRange(500,1700,200), yTicks:fYTicks, yMinor:stepRange(50,750,100), fs:15, xPad:3.5});
  label(g, "Intensity (a.u.)", 10, 702, {fs:15.5, anchor:"middle", baseline:"central", rotate:-90});
  const t = g.append("text").attr("x", 207).attr("y", 859.5).attr("text-anchor","middle").attr("font-family", FONT).attr("fill","#111");
  t.append("tspan").attr("font-size","12px").text("Raman shift ");
  t.append("tspan").attr("font-size","15px").text("(cm");
  t.append("tspan").attr("font-size","10px").attr("dy","-5.5px").text("-1");
  t.append("tspan").attr("font-size","15px").attr("dy","5.5px").text(")");
})();
</script>
</body></html>
